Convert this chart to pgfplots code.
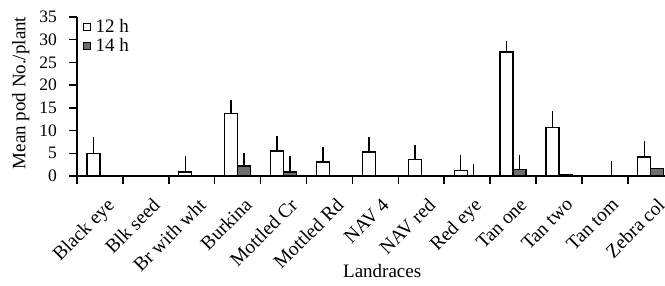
\documentclass[border=0pt]{standalone}
\usepackage{fontspec}
\setmainfont{Liberation Serif}
\usepackage{pgfplots}
\usepackage{pgfplotstable}
\pgfplotsset{compat=1.18}
\definecolor{darkbar}{RGB}{110,110,110}
\pgfplotstableread{
x v12 e12 v14 e14
0 5.0 3.5 0 0
1 0 0 0 0
2 0.9 3.6 0 0
3 13.7 3.1 2.2 2.8
4 5.5 3.3 0.9 3.4
5 3.1 3.3 0 0
6 5.3 3.3 0 0
7 3.6 3.3 0 0
8 1.25 3.45 0 2.7
9 27.3 2.5 1.5 3.2
10 10.7 3.5 0.35 0
11 0 0 0 3.3
12 4.2 3.4 1.7 0
}\datatable
\newcommand{\ff}{\fontsize{19}{21}\selectfont}
\newcommand{\fx}{\fontsize{19.5}{22}\selectfont}
\newcommand{\fs}{\fontsize{17.5}{20}\selectfont}
\begin{document}
\begin{tikzpicture}
\path[use as bounding box] (0,0) rectangle (665pt,285pt);
\begin{axis}[
  at={(77pt,109pt)}, anchor=south west,
  scale only axis, width=588pt, height=159pt,
  xmin=-0.5, xmax=12.31, ymin=0, ymax=35,
  axis lines=left, axis line style={-, line width=1.5pt},
  ybar=0pt, bar width=13pt,
  ytick={0,5,...,35},
  tick align=outside,
  major tick length=8pt,
  every tick/.style={black, line width=1.5pt},
  xtick={0,...,12},
  xtick style={/pgfplots/major tick length=0pt},
  minor xtick={-0.5,0.5,...,11.5},
  minor tick length=8pt,
  every minor tick/.style={black, line width=1.5pt},
  xticklabels={Black eye, Blk seed, Br with wht, Burkina, Mottled Cr, Mottled Rd, NAV 4, NAV red, Red eye, Tan one, Tan two, Tan tom, Zebra col},
  xticklabel style={rotate=45, anchor=north east, font=\fx, inner sep=0pt, yshift=-13pt, xshift=-5pt},
  yticklabel style={font=\fs, inner sep=0pt, anchor=east, xshift=-12pt},
  /pgf/number format/assume math mode=true,
  ylabel={Mean pod No./plant},
  ylabel style={font=\ff, at={(axis description cs:-0.0955,0.522)}, anchor=center},
  xlabel={Landraces},
  xlabel style={font=\ff, at={(axis description cs:0.519,-0.6)}, anchor=center},
  legend style={at={(axis description cs:0,1)}, anchor=north west, xshift=6pt, yshift=-1pt,
    draw=none, fill=none, font=\ff, inner sep=0pt, row sep=1pt,
    nodes={inner sep=1.5pt},
    /tikz/every odd column/.append style={column sep=3pt}},
  legend cell align=left,
  legend image code/.code={\draw[#1, line width=1pt] (0pt,-3.5pt) rectangle (7pt,3.5pt);},
  clip=true,
]
\addplot[draw=black, fill=white, line width=1.2pt,
  error bars/.cd, y dir=plus, y explicit, error mark=none,
  error bar style={line width=1.5pt, black}]
  table[x=x, y=v12, y error=e12] {\datatable};
\addlegendentry{12 h}
\addplot[draw=black, fill=darkbar, line width=1.2pt,
  error bars/.cd, y dir=plus, y explicit, error mark=none,
  error bar style={line width=1.5pt, black}]
  table[x=x, y=v14, y error=e14] {\datatable};
\addlegendentry{14 h}
\end{axis}
\end{tikzpicture}
\end{document}
